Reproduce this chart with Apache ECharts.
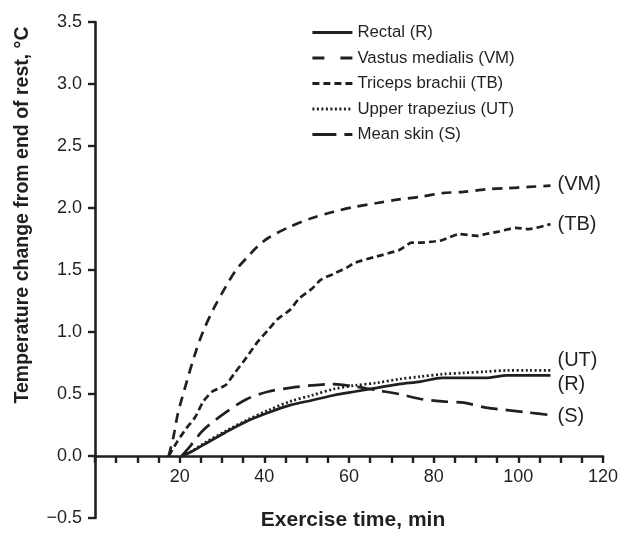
<!DOCTYPE html>
<html>
<head>
<meta charset="utf-8">
<script src="https://cdn.jsdelivr.net/npm/echarts@6/dist/echarts.min.js"></script>
<style>html,body{margin:0;padding:0;background:#fff}#c{width:639px;height:550px}</style>
</head>
<body>
<div id="c"></div>
<script>
// Series names and end labels
const seriesNames = ['Rectal (R)', 'Vastus medialis (VM)', 'Triceps brachii (TB)', 'Upper trapezius (UT)', 'Mean skin (S)'];
const endTags = ['(R)', '(VM)', '(TB)', '(UT)', '(S)'];

// Exercise time (min) and temperature change (°C)
const rectalTime = [20.5,22.5,25.6,30.8,35.9,41,46.1,51.3,56.4,61.5,66.6,71.8,76.9,82,87.1,92.3,97.4,102.5,107.6];
const rectalVals = [0,0.03,0.09,0.19,0.28,0.35,0.41,0.45,0.49,0.52,0.55,0.58,0.60,0.63,0.63,0.63,0.65,0.65,0.65];

const vmTime = [17.4,18.5,19.5,20.5,21.5,23.6,25.6,28.2,30.8,33.3,35.9,38.4,41,46.1,51.3,56.4,61.5,66.6,71.8,76.9,82,87.1,92.3,97.4,102.5,107.6];
const vmVals = [0,0.15,0.33,0.46,0.58,0.82,1.01,1.20,1.36,1.50,1.60,1.69,1.76,1.85,1.92,1.97,2.01,2.04,2.07,2.09,2.12,2.13,2.15,2.16,2.17,2.18];

const tbTime = [17.4,19.5,21.5,23.6,25.6,27.7,30.8,32.8,35.9,38.4,41,43,46.1,48.2,51.3,53.3,56.4,59.5,61.5,66.6,71.8,74.8,76.9,80,82,86.1,90.2,92.3,95.3,99.4,102.5,107.6];
const tbVals = [0,0.12,0.22,0.31,0.44,0.52,0.57,0.66,0.80,0.92,1.02,1.10,1.18,1.27,1.35,1.42,1.47,1.52,1.56,1.61,1.66,1.72,1.72,1.73,1.74,1.79,1.775,1.79,1.81,1.84,1.83,1.87];

const utTime = [20.5,22.5,25.6,30.8,35.9,41,46.1,51.3,56.4,61.5,66.6,71.8,76.9,82,87.1,92.3,97.4,102.5,107.6];
const utVals = [0,0.03,0.10,0.20,0.29,0.37,0.44,0.49,0.54,0.57,0.59,0.62,0.64,0.66,0.67,0.68,0.69,0.69,0.69];

const skinTime = [20.5,22.5,25.6,30.8,35.9,41,46.1,51.3,56.4,61.5,66.6,71.8,76.9,82,87.1,92.3,97.4,102.5,107.6];
const skinVals = [0,0.08,0.21,0.35,0.46,0.52,0.55,0.57,0.58,0.56,0.53,0.50,0.46,0.44,0.43,0.39,0.37,0.35,0.33];

// Axis ticks
const xTickLabels = [20, 40, 60, 80, 100, 120];
const yTickLabels = ['−0.5','0.0','0.5','1.0','1.5','2.0','2.5','3.0','3.5'];

const ink = '#231f20';
const FONT = 'Liberation Sans, Arial, sans-serif';
const pair = (t, v) => t.map((x, i) => [x, v[i]]);

const styles = [
  { type: 'solid', legendType: 'solid', smooth: 0.3, off: [0, 9] },
  { type: [10, 7], legendType: [12, 16], smooth: 0.3, off: [0, -1] },
  { type: [7, 4], legendType: [7, 4], smooth: 0.2, off: [0, 0] },
  { type: [2, 2.5], legendType: [2, 2.5], smooth: 0.3, off: [0, -10] },
  { type: [17, 8], legendType: [24, 8], smooth: 0.3, off: [0, 1] }
];
const datas = [pair(rectalTime, rectalVals), pair(vmTime, vmVals), pair(tbTime, tbVals), pair(utTime, utVals), pair(skinTime, skinVals)];

const series = seriesNames.map((n, i) => ({
  name: n,
  type: 'line',
  data: datas[i],
  showSymbol: false,
  symbol: 'none',
  smooth: styles[i].smooth,
  lineStyle: { color: ink, width: 2.7, type: styles[i].type, cap: 'butt' },
  itemStyle: { color: ink },
  endLabel: {
    show: true,
    formatter: endTags[i],
    color: ink,
    fontSize: 20,
    fontFamily: FONT,
    distance: 7,
    offset: styles[i].off
  },
  emphasis: { disabled: true },
  z: 3
}));

const chart = echarts.init(document.getElementById('c'), null, { renderer: 'canvas' });
chart.setOption({
  animation: false,
  backgroundColor: '#fff',
  textStyle: { fontFamily: FONT, color: ink },
  grid: { left: 95, right: 36, top: 22, bottom: 32, containLabel: false, outerBoundsMode: 'none' },
  legend: {
    orient: 'vertical',
    left: 306,
    top: 19,
    itemWidth: 40,
    itemHeight: 14,
    itemGap: 8.5,
    data: seriesNames.map((n, i) => ({
      name: n,
      lineStyle: { color: ink, width: 2.8, type: styles[i].legendType, cap: 'butt' }
    })),
    itemStyle: { opacity: 0, borderWidth: 0 },
    textStyle: { fontSize: 16.8, color: ink, fontFamily: FONT },
    selectedMode: false
  },
  xAxis: {
    type: 'value',
    min: 0, max: 120, interval: 20,
    offset: -62,
    name: 'Exercise time, min',
    nameLocation: 'middle',
    nameGap: 54,
    nameTextStyle: { fontSize: 21, fontWeight: 'bold', color: ink, padding: [0, 0, 0, 8] },
    axisLine: { show: true, onZero: false, lineStyle: { color: ink, width: 2.6 } },
    axisTick: { show: true, inside: false, length: 7, lineStyle: { color: ink, width: 2.4 } },
    minorTick: { show: true, splitNumber: 4, length: 7, lineStyle: { color: ink, width: 2.4 } },
    axisLabel: {
      fontSize: 18, color: ink, margin: 12,
      formatter: v => (xTickLabels.indexOf(v) >= 0 ? String(v) : '')
    },
    splitLine: { show: false }
  },
  yAxis: {
    type: 'value',
    min: -0.5, max: 3.5, interval: 0.5,
    name: 'Temperature change from end of rest, °C',
    nameLocation: 'middle',
    nameGap: 62,
    nameTextStyle: { fontSize: 19.5, fontWeight: 'bold', color: ink, padding: [0, 0, 0, 110] },
    axisLine: { show: true, onZero: false, lineStyle: { color: ink, width: 2.6 } },
    axisTick: { show: true, inside: false, length: 7, lineStyle: { color: ink, width: 2.4 } },
    axisLabel: {
      fontSize: 18, color: ink, margin: 13,
      formatter: v => yTickLabels[Math.round((v + 0.5) / 0.5)]
    },
    splitLine: { show: false }
  },
  series: series
});
</script>
</body>
</html>
